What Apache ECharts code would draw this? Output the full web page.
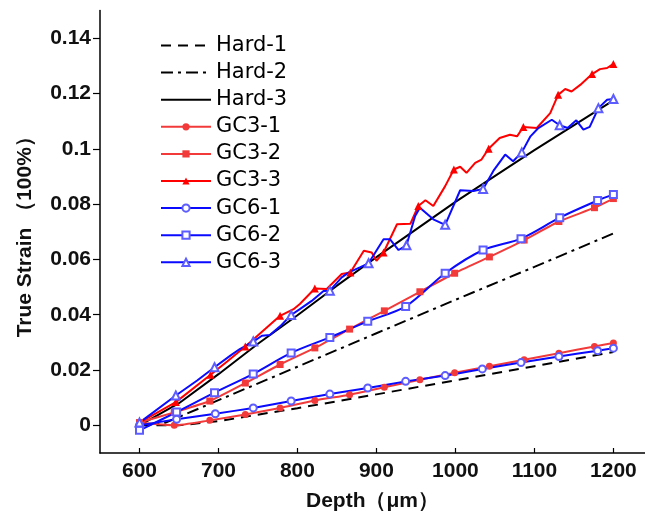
<!DOCTYPE html>
<html><head><meta charset="utf-8">
<script src="https://cdn.jsdelivr.net/npm/echarts@6/dist/echarts.min.js"></script>
<style>html,body{margin:0;padding:0;background:#fff}#c{width:645px;height:517px}</style>
</head><body><div id="c"></div>
<script>
// ---- tick labels ----
const xTicks = [600, 700, 800, 900, 1000, 1100, 1200];
const yTicks = [0, 0.02, 0.04, 0.06, 0.08, 0.1, 0.12, 0.14];

// ---- series names ----
const names = ['Hard-1','Hard-2','Hard-3','GC3-1','GC3-2','GC3-3','GC6-1','GC6-2','GC6-3'];

// ---- Hard reference lines ----
const hard1Depth  = [600, 650, 700, 800, 900, 1000, 1100, 1200];
const hard1Strain = [0, 0, 0.0015, 0.0062, 0.0112, 0.0163, 0.0214, 0.0265];
const hard2Depth  = [600, 630, 700, 800, 900, 1000, 1100, 1200];
const hard2Strain = [0, 0.0006, 0.0091, 0.0212, 0.0333, 0.0454, 0.0573, 0.0694];
const hard3Depth  = [600, 650, 700, 750, 800, 850, 900, 1000, 1100, 1200];
const hard3Strain = [0, 0.008, 0.0185, 0.0295, 0.0398, 0.0505, 0.0608, 0.0808, 0.0995, 0.1175];

// ---- GC3 ----
const gc31Depth  = [600, 644, 689, 734, 778, 822, 866, 910, 955, 999, 1043, 1087, 1131, 1176, 1200];
const gc31Strain = [0.001, 0.0, 0.0018, 0.0039, 0.0063, 0.009, 0.0111, 0.0138, 0.0165, 0.019, 0.0214, 0.0237, 0.0261, 0.0285, 0.0298];
const gc32Depth  = [600, 644, 689, 734, 778, 822, 866, 910, 955, 999, 1043, 1087, 1131, 1176, 1200];
const gc32Strain = [0.001, 0.0047, 0.0088, 0.0153, 0.022, 0.028, 0.0348, 0.0414, 0.0483, 0.055, 0.0609, 0.067, 0.0737, 0.0787, 0.082];
const gc33Depth  = [600, 646, 690, 711, 734, 778, 795, 803, 822, 837, 856, 867, 884, 894, 900, 909, 926, 943, 953, 962, 972, 987, 998, 1006, 1014, 1025, 1033, 1042, 1056, 1069, 1078, 1086, 1103, 1120, 1130, 1139, 1147, 1158, 1173, 1183, 1192, 1200];
const gc33Strain = [0.001, 0.0084, 0.0183, 0.0231, 0.0285, 0.0396, 0.042, 0.0439, 0.0495, 0.0493, 0.0547, 0.0553, 0.0631, 0.0625, 0.0595, 0.0625, 0.0727, 0.0729, 0.0793, 0.0814, 0.0793, 0.0865, 0.0925, 0.0935, 0.0913, 0.0949, 0.0961, 0.1, 0.1039, 0.1051, 0.1045, 0.1079, 0.1075, 0.1129, 0.1195, 0.1216, 0.1207, 0.1231, 0.127, 0.1288, 0.1292, 0.1307];
const gc33Marks  = [600, 646, 690, 734, 778, 822, 867, 909, 953, 998, 1042, 1086, 1130, 1173, 1200];

// ---- GC6 ----
const gc61Depth  = [600, 647, 696, 744, 792, 841, 889, 937, 987, 1034, 1083, 1131, 1180, 1200];
const gc61Strain = [0.0, 0.0022, 0.0042, 0.0063, 0.0088, 0.0113, 0.0135, 0.0159, 0.018, 0.0204, 0.0227, 0.0249, 0.027, 0.0279];
const gc62Depth  = [600, 647, 695, 744, 792, 841, 889, 937, 987, 1035, 1083, 1132, 1180, 1200];
const gc62Strain = [-0.0018, 0.0048, 0.0118, 0.0186, 0.0262, 0.0318, 0.0376, 0.043, 0.055, 0.0634, 0.0675, 0.0751, 0.0813, 0.0835];
const gc63Depth  = [600, 646, 673, 695, 715, 727, 744, 755, 765, 778, 792, 803, 818, 833, 841, 856, 865, 879, 890, 909, 917, 928, 938, 949, 955, 972, 987, 1006, 1023, 1035, 1048, 1063, 1073, 1084, 1095, 1105, 1122, 1132, 1142, 1153, 1162, 1170, 1181, 1192, 1200];
const gc63Strain = [0.001, 0.0108, 0.0162, 0.021, 0.0252, 0.0276, 0.0303, 0.0324, 0.0327, 0.0358, 0.0399, 0.042, 0.045, 0.0486, 0.0487, 0.0535, 0.0553, 0.0571, 0.0586, 0.0673, 0.0673, 0.0634, 0.0651, 0.0757, 0.0787, 0.0745, 0.0725, 0.085, 0.0847, 0.0855, 0.092, 0.0979, 0.0955, 0.0987, 0.1045, 0.1075, 0.1105, 0.1085, 0.1075, 0.1103, 0.1069, 0.1079, 0.1147, 0.1177, 0.118];
const gc63Marks  = [600, 646, 695, 744, 792, 841, 890, 938, 987, 1035, 1084, 1132, 1181, 1200];

function pts(depth, strain, marks) {
  return depth.map((d, i) => {
    const item = { value: [d, strain[i]] };
    if (marks && marks.indexOf(d) < 0) item.symbol = 'none';
    return item;
  });
}

const FONT = 'Liberation Sans, Arial, sans-serif';
const RED = '#f23a3a', RED2 = '#ff0000', BLUE = '#0a0aff', BLUEM = '#5c5cff';

function hard(name, depth, strain, type) {
  return { name, type: 'line', data: pts(depth, strain), symbol: 'none', smooth: false,
    lineStyle: { color: '#000', width: 2, type: type }, itemStyle: { color: '#000' }, z: 2 };
}
function gc(name, depth, strain, marks, sym, size, line, mark, smooth) {
  return { name, type: 'line', data: pts(depth, strain, marks), symbol: sym, symbolSize: size,
    showAllSymbol: true, smooth: smooth,
    lineStyle: { color: line, width: 2 },
    itemStyle: { color: mark, borderWidth: sym.indexOf('empty') === 0 ? 1.2 : 0 }, z: 3 };
}

const legendData = names.map(n => n.indexOf('Hard') === 0
  ? { name: n, itemStyle: { color: 'rgba(0,0,0,0)', borderColor: 'rgba(0,0,0,0)', borderWidth: 0 } }
  : { name: n });

const chart = echarts.init(document.getElementById('c'), null, { renderer: 'canvas' });
chart.setOption({
  animation: false,
  backgroundColor: '#fff',
  grid: { left: 100, right: 0, top: 10.5, bottom: 62.5, containLabel: false },
  legend: {
    orient: 'vertical', left: 160, top: 35, padding: 0, itemWidth: 50, itemHeight: 9, itemGap: 6.1,
    data: legendData,
    textStyle: { fontFamily: 'DejaVu Sans, sans-serif', fontSize: 21, color: '#000' }
  },
  xAxis: {
    type: 'value', min: 550, max: 1240,
    name: 'Depth（μm）', nameLocation: 'middle', nameGap: 38,
    nameTextStyle: { fontFamily: FONT, fontSize: 21, fontWeight: 'bold', color: '#111' },
    axisLine: { show: true, onZero: false, lineStyle: { color: '#000', width: 1.5 } },
    axisTick: { show: true, inside: true, length: 5, customValues: xTicks, lineStyle: { color: '#000', width: 1.2 } },
    axisLabel: { customValues: xTicks, margin: 8, fontFamily: FONT, fontSize: 21, fontWeight: 'bold', color: '#111',
      formatter: v => String(Math.round(v)) },
    splitLine: { show: false }
  },
  yAxis: {
    type: 'value', min: -0.01, max: 0.15,
    name: 'True Strain （100%）', nameLocation: 'middle', nameGap: 64, nameRotate: 90,
    nameTextStyle: { fontFamily: FONT, fontSize: 21, fontWeight: 'bold', color: '#111' },
    axisLine: { show: true, onZero: false, lineStyle: { color: '#000', width: 1.5 } },
    axisTick: { show: true, inside: false, length: 7, customValues: yTicks, lineStyle: { color: '#000', width: 1.2 } },
    axisLabel: { customValues: yTicks, margin: 9, fontFamily: FONT, fontSize: 21, fontWeight: 'bold', color: '#111',
      formatter: v => String(+(+v).toFixed(4)) },
    splitLine: { show: false }
  },
  series: [
    hard('Hard-1', hard1Depth, hard1Strain, [10, 7]),
    hard('Hard-2', hard2Depth, hard2Strain, [12, 5, 3, 5]),
    hard('Hard-3', hard3Depth, hard3Strain, 'solid'),
    gc('GC3-1', gc31Depth, gc31Strain, null, 'circle', 7, RED, RED, 0.2),
    gc('GC3-2', gc32Depth, gc32Strain, null, 'rect', 7, RED, RED, 0.2),
    gc('GC3-3', gc33Depth, gc33Strain, gc33Marks, 'triangle', 8, RED2, RED2, false),
    gc('GC6-1', gc61Depth, gc61Strain, null, 'emptyCircle', 7, BLUE, BLUEM, 0.2),
    gc('GC6-2', gc62Depth, gc62Strain, null, 'emptyRect', 7, BLUE, BLUEM, 0.3),
    gc('GC6-3', gc63Depth, gc63Strain, gc63Marks, 'emptyTriangle', 8, BLUE, BLUEM, false)
  ]
});
</script></body></html>
